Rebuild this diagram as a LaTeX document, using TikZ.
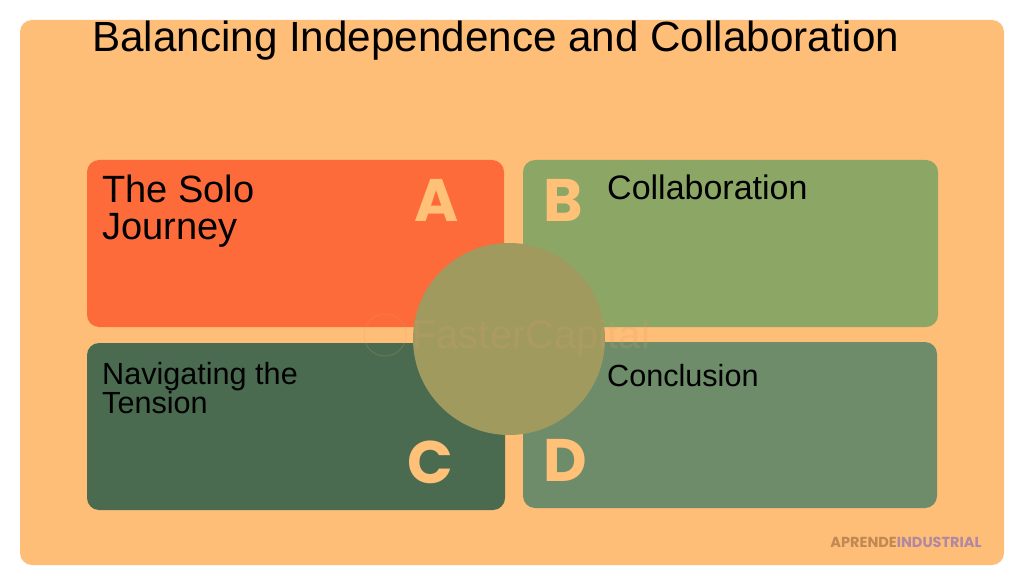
\documentclass[tikz,border=0pt]{standalone}
\usepackage{fontspec}
\setmainfont{Liberation Sans}
\newfontfamily\letterfont{Poppins}
\definecolor{bgorange}{RGB}{255,190,120}
\definecolor{boxA}{RGB}{254,107,59}
\definecolor{boxB}{RGB}{140,166,101}
\definecolor{boxC}{RGB}{74,107,80}
\definecolor{boxD}{RGB}{110,140,106}
\definecolor{circ}{RGB}{160,154,95}
\definecolor{lettercol}{RGB}{255,192,120}
\definecolor{aprende}{RGB}{192,136,82}
\definecolor{industrial}{RGB}{176,136,160}
\definecolor{wmark}{RGB}{220,160,100}
\tikzset{
  panel/.style={rounded corners=12pt},
  label/.style={anchor=base west, inner sep=0pt, text=black},
  letter/.style={anchor=center, inner sep=0pt, text=lettercol, font=\letterfont\bfseries\fontsize{60}{60}\selectfont},
}
\begin{document}
\begin{tikzpicture}[x=1pt,y=-1pt]
\useasboundingbox (0,0) rectangle (1024,585);
\fill[white] (0,0) rectangle (1024,585);
\fill[bgorange, rounded corners=12pt] (20,20) rectangle (1004,565);
% panels
\fill[boxA, panel] (87,160) rectangle (504,327);
\fill[boxB, panel] (523,160) rectangle (938,327);
\fill[boxC, panel] (87,343) rectangle (505,510);
\fill[boxD, panel] (523,342) rectangle (937,508);
% central circle
\fill[circ] (509,339) circle (96pt);
\node (ctr) at (509,339) {};
% watermark
\draw[wmark, opacity=0.22, line width=1pt] (385,335) circle (21pt);
\node[anchor=base west, inner sep=0pt, text=wmark, opacity=0.2, font=\fontsize{40}{40}\selectfont] (wm) at (412,348) {FasterCapital};
% title
\node[label, font=\fontsize{42.2}{42}\selectfont] (title) at (92,52) {Balancing Independence and Collaboration};
% panel texts
\node[label, font=\fontsize{38}{38}\selectfont] (solo1) at (102,203) {The Solo};
\node[label, font=\fontsize{38}{38}\selectfont] (solo2) at (102,240) {Journey};
\node[label, font=\fontsize{34}{34}\selectfont] (collab) at (607,200) {Collaboration};
\node[label, font=\fontsize{30.6}{30}\selectfont] (nav1) at (102,384) {Navigating the};
\node[label, font=\fontsize{30.6}{30}\selectfont] (nav2) at (102,413) {Tension};
\node[label, font=\fontsize{30.6}{30}\selectfont] (concl) at (607,386) {Conclusion};
% letters
\node[letter] (la) at (437,200) {A};
\node[letter] (lb) at (563,200) {B};
\node[letter] (lc) at (430,462) {C};
\node[letter] (ld) at (565,460) {D};
% logo
\node[anchor=center, inner sep=0pt, font=\letterfont\bfseries\fontsize{14.5}{14.5}\selectfont] (logo) at (906,542) {\textcolor{aprende}{APRENDE}\textcolor{industrial}{INDUSTRIAL}};
\end{tikzpicture}
\end{document}
